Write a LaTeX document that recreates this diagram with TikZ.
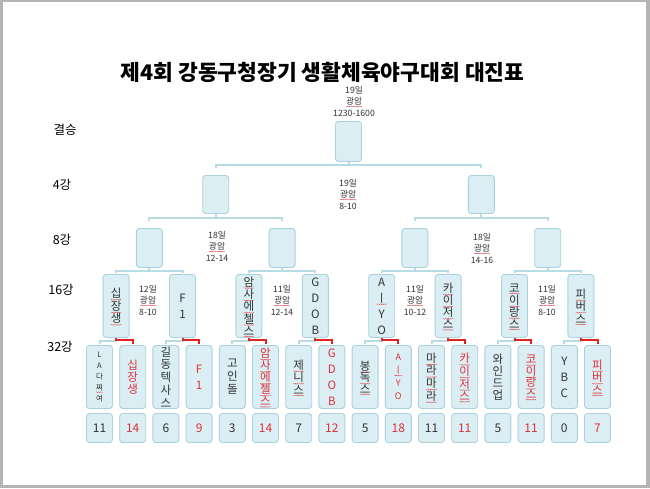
\documentclass[tikz,border=0pt]{standalone}
\usepackage{fontspec}
\setmainfont{Noto Sans CJK KR}
\usetikzlibrary{decorations.pathmorphing}
\definecolor{boxfill}{HTML}{DAEEF3}
\definecolor{boxdraw}{HTML}{A9D2DE}
\definecolor{linkc}{HTML}{B8DCE6}
\definecolor{winc}{HTML}{E02424}
\definecolor{redtxt}{HTML}{E0303A}
\definecolor{darktxt}{HTML}{333333}
\definecolor{framec}{HTML}{B4B4B4}
\newcommand{\sq}[1]{\tikz[baseline=(sqw.base)]{\node[inner sep=0pt,outer sep=0pt,align=center](sqw){#1};\draw[overlay,winc!85,line width=0.3pt,decorate,decoration={snake,amplitude=0.4pt,segment length=1.8pt}]([yshift=-1.2pt]sqw.south west)--([yshift=-1.2pt]sqw.south east);}}
\tikzset{
 bx/.style={draw=boxdraw, fill=boxfill, line width=0.9pt, rounded corners=3pt, minimum width=26pt, inner sep=0pt, anchor=north},
 link/.style={draw=linkc, line width=2pt},
 win/.style={draw=winc, line width=2pt},
 vt/.style={align=center, inner sep=0pt, text=darktxt, font=\fontsize{11.5}{#1}\selectfont},
 vts/.style={align=center, inner sep=0pt, text=darktxt, font=\fontsize{#1}{11}\selectfont},
 lab/.style={inner sep=0pt, text=black, font=\fontsize{12.5}{14}\selectfont},
 sched/.style={align=center, inner sep=0pt, text=darktxt, font=\fontsize{8.7}{11.5}\selectfont},
 score/.style={bx, minimum height=29pt, text=darktxt, font=\fontsize{12}{13}\selectfont},
 titlef/.style={inner sep=0pt, text=black, font=\fontsize{21.5}{24}\selectfont\bfseries},
 rd/.style={text=redtxt}
}
\begin{document}
\begin{tikzpicture}[x=1pt,y=-1pt]
\useasboundingbox (0,0) rectangle (650,488);
\fill[framec] (0,0) rectangle (650,488);
\fill[white] (3,2) rectangle (646,485);

\node[titlef] (title) at (322.5,72) {제4회 강동구청장기 생활체육야구대회 대진표};

% row labels
\node[lab] (lf) at (65,130) {결승};
\node[lab] (l4) at (62,185) {4강};
\node[lab] (l8) at (62,240) {8강};
\node[lab] (l16) at (61,290) {16강};
\node[lab] (l32) at (60,347) {32강};

% schedule texts
\node[sched] (tf) at (354,101) {19일\\\sq{광암}\\1230-1600};
\node[sched] (ts) at (348,194) {19일\\\sq{광암}\\8-10};
\node[sched] (tq1) at (217,246) {18일\\\sq{광암}\\12-14};
\node[sched] (tq2) at (482,248) {18일\\\sq{광암}\\14-16};
\node[sched] (tr1) at (148,300) {12일\\\sq{광암}\\8-10};
\node[sched] (tr2) at (282,300) {11일\\\sq{광암}\\12-14};
\node[sched] (tr3) at (415,300) {11일\\\sq{광암}\\10-12};
\node[sched] (tr4) at (547,300) {11일\\\sq{광암}\\8-10};

% final, semis, quarters
\node[bx,minimum height=40pt] (f) at (348.5,121) {};
\node[bx,minimum height=38pt] (s1) at (215.7,175) {};
\node[bx,minimum height=38pt] (s2) at (481.3,175) {};
\node[bx,minimum height=39pt] (q1) at (149.3,228) {};
\node[bx,minimum height=39pt] (q2) at (282.1,228) {};
\node[bx,minimum height=39pt] (q3) at (414.9,228) {};
\node[bx,minimum height=39pt] (q4) at (547.7,228) {};

% round of 16
\node[bx,minimum height=63pt] (r1) at (116.1,274) {};
\node[bx,minimum height=63pt] (r2) at (182.5,274) {};
\node[bx,minimum height=63pt] (r3) at (248.9,274) {};
\node[bx,minimum height=63pt] (r4) at (315.3,274) {};
\node[bx,minimum height=63pt] (r5) at (381.7,274) {};
\node[bx,minimum height=63pt] (r6) at (448.1,274) {};
\node[bx,minimum height=63pt] (r7) at (514.5,274) {};
\node[bx,minimum height=63pt] (r8) at (580.9,274) {};
\node[vt=12.5] (r1t) at (r1.center) {\sq{십}\\\sq{장}\\\sq{생}};
\node[vt=16] (r2t) at (r2.center) {F\\1};
\node[vt=12.3] (r3t) at (r3.center) {\sq{암}\\\sq{사}\\\sq{에}\\\sq{첼}\\\sq{스}};
\node[vt=16] (r4t) at (r4.center) {G\\D\\O\\B};
\node[vt=16] (r5t) at (r5.center) {A\\\sq{ㅣ}\\Y\\O};
\node[vt=12] (r6t) at (r6.center) {\sq{카}\\\sq{이}\\\sq{저}\\\sq{스}};
\node[vt=12] (r7t) at (r7.center) {\sq{코}\\\sq{이}\\\sq{랑}\\\sq{스}};
\node[vt=12.5] (r8t) at (r8.center) {\sq{피}\\\sq{버}\\\sq{스}};

% round of 32
\node[bx,minimum height=63pt] (e1) at (99.5,345) {};
\node[bx,minimum height=63pt] (e2) at (132.7,345) {};
\node[bx,minimum height=63pt] (e3) at (165.9,345) {};
\node[bx,minimum height=63pt] (e4) at (199.1,345) {};
\node[bx,minimum height=63pt] (e5) at (232.3,345) {};
\node[bx,minimum height=63pt] (e6) at (265.5,345) {};
\node[bx,minimum height=63pt] (e7) at (298.7,345) {};
\node[bx,minimum height=63pt] (e8) at (331.9,345) {};
\node[bx,minimum height=63pt] (e9) at (365.1,345) {};
\node[bx,minimum height=63pt] (e10) at (398.3,345) {};
\node[bx,minimum height=63pt] (e11) at (431.5,345) {};
\node[bx,minimum height=63pt] (e12) at (464.7,345) {};
\node[bx,minimum height=63pt] (e13) at (497.9,345) {};
\node[bx,minimum height=63pt] (e14) at (531.1,345) {};
\node[bx,minimum height=63pt] (e15) at (564.3,345) {};
\node[bx,minimum height=63pt] (e16) at (597.5,345) {};
\node[vts=7.5] (e1t) at (e1.center) {L\\A\\다\\\sq{쪄}\\여};
\node[vt=12,rd] (e2t) at (e2.center) {십\\장\\생};
\node[vt=12.8] (e3t) at (e3.center) {길\\동\\텍\\사\\스};
\node[vt=16,rd] (e4t) at (e4.center) {F\\1};
\node[vt=13] (e5t) at (e5.center) {고\\인\\돌};
\node[vt=12,rd] (e6t) at (e6.center) {\sq{암}\\\sq{사}\\\sq{에}\\\sq{첼}\\\sq{스}};
\node[vt=12.5] (e7t) at (e7.center) {\sq{제}\\\sq{니}\\\sq{스}};
\node[vt=16,rd] (e8t) at (e8.center) {G\\D\\O\\B};
\node[vt=11.5] (e9t) at (e9.center) {\sq{봉}\\\sq{독}\\\sq{스}};
\node[vts=9,rd] (e10t) at (e10.center) {A\\[2pt]\sq{ㅣ}\\[2pt]Y\\[2pt]O};
\node[vt=12.6] (e11t) at (e11.center) {\sq{마}\\\sq{라}\\\sq{마}\\\sq{라}};
\node[vt=12.6,rd] (e12t) at (e12.center) {\sq{카}\\\sq{이}\\\sq{저}\\\sq{스}};
\node[vt=12] (e13t) at (e13.center) {와\\인\\드\\업};
\node[vt=11.5,rd] (e14t) at (e14.center) {\sq{코}\\\sq{이}\\\sq{랑}\\\sq{스}};
\node[vt=16] (e15t) at (e15.center) {Y\\B\\C};
\node[vt=12.5,rd] (e16t) at (e16.center) {\sq{피}\\\sq{버}\\\sq{스}};

% scores
\node[score] (k1) at (99.5,413) {11};
\node[score,rd] (k2) at (132.7,413) {14};
\node[score] (k3) at (165.9,413) {6};
\node[score,rd] (k4) at (199.1,413) {9};
\node[score] (k5) at (232.3,413) {3};
\node[score,rd] (k6) at (265.5,413) {14};
\node[score] (k7) at (298.7,413) {7};
\node[score,rd] (k8) at (331.9,413) {12};
\node[score] (k9) at (365.1,413) {5};
\node[score,rd] (k10) at (398.3,413) {18};
\node[score] (k11) at (431.5,413) {11};
\node[score,rd] (k12) at (464.7,413) {11};
\node[score] (k13) at (497.9,413) {5};
\node[score,rd] (k14) at (531.1,413) {11};
\node[score] (k15) at (564.3,413) {0};
\node[score,rd] (k16) at (597.5,413) {7};

% connectors
\foreach \c in {s1,s2} \draw[link] (f.south) -- ++(0,3) -| ([yshift=7pt]\c.north);
\foreach \p/\a/\b in {s1/q1/q2, s2/q3/q4} {
  \draw[link] (\p.south) -- ++(0,4) -| ([yshift=7pt]\a.north);
  \draw[link] (\p.south) -- ++(0,4) -| ([yshift=7pt]\b.north);
}
\foreach \p/\a/\b in {q1/r1/r2, q2/r3/r4, q3/r5/r6, q4/r7/r8} {
  \draw[link] (\p.south) -- ++(0,3) -| ([yshift=1pt]\a.north);
  \draw[link] (\p.south) -- ++(0,3) -| ([yshift=1pt]\b.north);
}
\foreach \p/\a/\b in {r1/e1/e2, r2/e3/e4, r3/e5/e6, r4/e7/e8, r5/e9/e10, r6/e11/e12, r7/e13/e14, r8/e15/e16} {
  \draw[link] (\p.south) -- ++(0,3) -| ([yshift=1pt]\a.north);
  \draw[win] (\p.south) -- ++(0,2.5) -| ([yshift=1pt]\b.north);
}
\end{tikzpicture}
\end{document}
